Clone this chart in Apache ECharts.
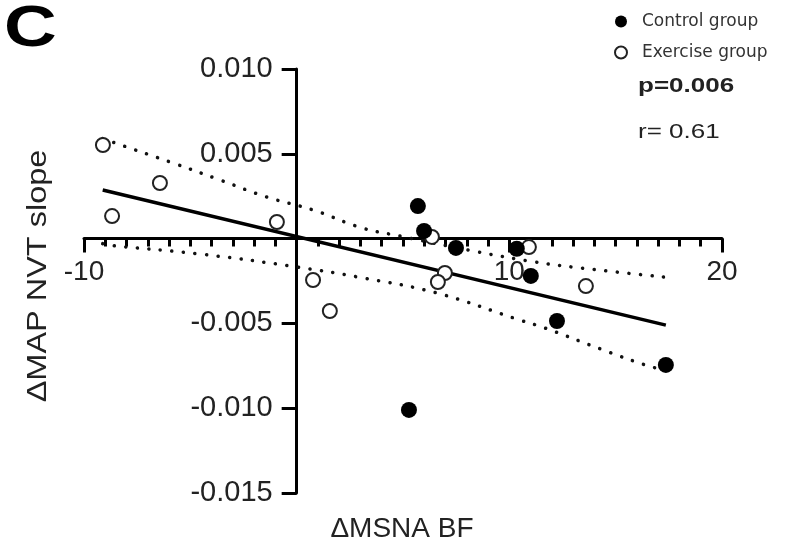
<!DOCTYPE html>
<html>
<head>
<meta charset="utf-8">
<script src="https://cdn.jsdelivr.net/npm/echarts@6/dist/echarts.min.js"></script>
<style>
html,body{margin:0;padding:0;background:#fff;overflow:hidden;}
#chart{width:794px;height:544px;}
</style>
</head>
<body>
<div id="chart"></div>
<script>
// Data
var controlGroup = [
  [5.70, 0.00192], [5.99, 0.00045], [7.49, -0.00055], [10.35, -0.00060],
  [11.01, -0.00220], [12.24, -0.00486], [17.36, -0.00745], [5.28, -0.01010]
];
var exerciseGroup = [
  [-9.11, 0.00552], [-8.68, 0.00133], [-6.43, 0.00328], [-0.93, 0.00098],
  [0.77, -0.00244], [1.56, -0.00427], [6.36, 0.00010], [6.97, -0.00203],
  [6.64, -0.00256], [10.92, -0.00050], [13.60, -0.00280]
];
var regressionLine = [[-9.12, 0.00287], [17.36, -0.00510]];
var upperBand = [
  [-9.12, 0.00590], [-8.54, 0.00564], [-5.82, 0.00446], [-3.61, 0.00346],
  [-1.40, 0.00245], [0.77, 0.00169], [3.07, 0.00063], [4.86, 0.00015],
  [8.29, -0.00073], [11.20, -0.00138], [13.32, -0.00173], [17.36, -0.00228]
];
var lowerBand = [
  [-9.12, -0.00030], [-8.92, -0.00038], [-4.55, -0.00091], [0.00, -0.00167],
  [3.12, -0.00232], [6.60, -0.00321], [10.49, -0.00480], [11.67, -0.00527],
  [14.40, -0.00656], [16.70, -0.00757], [17.36, -0.00768]
];
var xTicks = {min: -10, max: 20, interval: 10};
var yTicks = {min: -0.015, max: 0.010, interval: 0.005};
var seriesNames = ['Control group', 'Exercise group'];
var statsText = ['p=0.006', 'r= 0.61'];
var axisTitles = {x: 'ΔMSNA BF', y: 'ΔMAP NVT slope'};

var FONT = 'Liberation Sans, Arial, sans-serif';
var chart = echarts.init(document.getElementById('chart'), null, {renderer: 'canvas'});
var dotted = {color: '#111', width: 3.5, type: [0.1, 11.5], cap: 'round'};

// plot area geometry
var G = {left: 84, top: 69, width: 638, height: 424};
var zeroX = G.left + G.width * (0 - xTicks.min) / (xTicks.max - xTicks.min);
var zeroY = G.top + G.height * (yTicks.max - 0) / (yTicks.max - yTicks.min);

var hiddenAxis = function (gi, range) {
  return {type: 'value', gridIndex: gi, min: range.min, max: range.max, show: false, splitLine: {show: false}};
};

chart.setOption({
  animation: false,
  backgroundColor: '#fff',
  grid: [
    {left: G.left, top: G.top, width: G.width, height: G.height, outerBoundsMode: 'none'},
    // y-axis crossing at x = 0
    {left: zeroX, top: G.top, width: G.left + G.width - zeroX, height: G.height, outerBoundsMode: 'none'},
    // x-axis crossing at y = 0
    {left: G.left, top: G.top, width: G.width, height: zeroY - G.top, outerBoundsMode: 'none'}
  ],
  xAxis: [
    hiddenAxis(0, xTicks),
    hiddenAxis(1, xTicks),
    {
      type: 'value', gridIndex: 2, position: 'bottom', min: xTicks.min, max: xTicks.max, interval: xTicks.interval,
      splitLine: {show: false},
      axisLine: {onZero: false, lineStyle: {color: '#000', width: 3}},
      axisTick: {show: true, length: 14, lineStyle: {color: '#000', width: 3}},
      minorTick: {show: true, splitNumber: 10, length: 8, lineStyle: {color: '#000', width: 3}},
      axisLabel: {
        margin: 20, fontFamily: FONT, fontSize: 28, color: '#222',
        formatter: function (v) { return v === 0 ? '' : String(v); }
      }
    }
  ],
  yAxis: [
    hiddenAxis(0, yTicks),
    {
      type: 'value', gridIndex: 1, position: 'left', min: yTicks.min, max: yTicks.max, interval: yTicks.interval,
      splitLine: {show: false},
      axisLine: {onZero: false, lineStyle: {color: '#000', width: 3}},
      axisTick: {show: true, length: 15, lineStyle: {color: '#000', width: 3}},
      axisLabel: {
        margin: 24, fontFamily: FONT, fontSize: 29, color: '#222',
        formatter: function (v) { return Math.abs(v) < 1e-9 ? '' : v.toFixed(3); }
      }
    },
    hiddenAxis(2, {min: 0, max: yTicks.max})
  ],
  legend: {
    orient: 'vertical', left: 609, top: 8, itemWidth: 12, itemHeight: 12, itemGap: 14,
    icon: 'circle',
    data: seriesNames,
    textStyle: {fontFamily: 'DejaVu Sans', fontSize: 17, color: '#333', padding: [0, 0, 0, 10]}
  },
  graphic: [
    {type: 'text', x: 4, y: 30, scaleX: 1.28, style: {text: 'C', font: 'bold 57px ' + FONT, fill: '#000', align: 'left', verticalAlign: 'middle'}},
    {type: 'text', x: 638, y: 86, scaleX: 1.3, style: {text: statsText[0], font: 'bold 20px ' + FONT, fill: '#222', align: 'left', verticalAlign: 'middle'}},
    {type: 'text', x: 638, y: 132, scaleX: 1.3, style: {text: statsText[1], font: '20px ' + FONT, fill: '#222', align: 'left', verticalAlign: 'middle'}},
    {type: 'text', x: 402, y: 529, style: {text: axisTitles.x, font: '28px ' + FONT, fill: '#222', align: 'center', verticalAlign: 'middle'}},
    {type: 'text', x: 38, y: 276, rotation: Math.PI / 2, scaleX: 1.16, style: {text: axisTitles.y, font: '28px ' + FONT, fill: '#222', align: 'center', verticalAlign: 'middle'}}
  ],
  series: [
    {type: 'line', data: upperBand, smooth: 0.4, symbol: 'none', lineStyle: dotted, z: 1, silent: true},
    {type: 'line', data: lowerBand, smooth: 0.4, symbol: 'none', lineStyle: dotted, z: 1, silent: true},
    {type: 'line', data: regressionLine, symbol: 'none', lineStyle: {color: '#000', width: 3.5}, z: 2, silent: true},
    {name: seriesNames[0], type: 'scatter', data: controlGroup, symbol: 'circle', symbolSize: 16,
      itemStyle: {color: '#000', opacity: 1}, z: 4},
    {name: seriesNames[1], type: 'scatter', data: exerciseGroup, symbol: 'circle', symbolSize: 14,
      itemStyle: {color: '#fff', borderColor: '#222', borderWidth: 2, opacity: 1}, z: 3}
  ]
});
</script>
</body>
</html>
